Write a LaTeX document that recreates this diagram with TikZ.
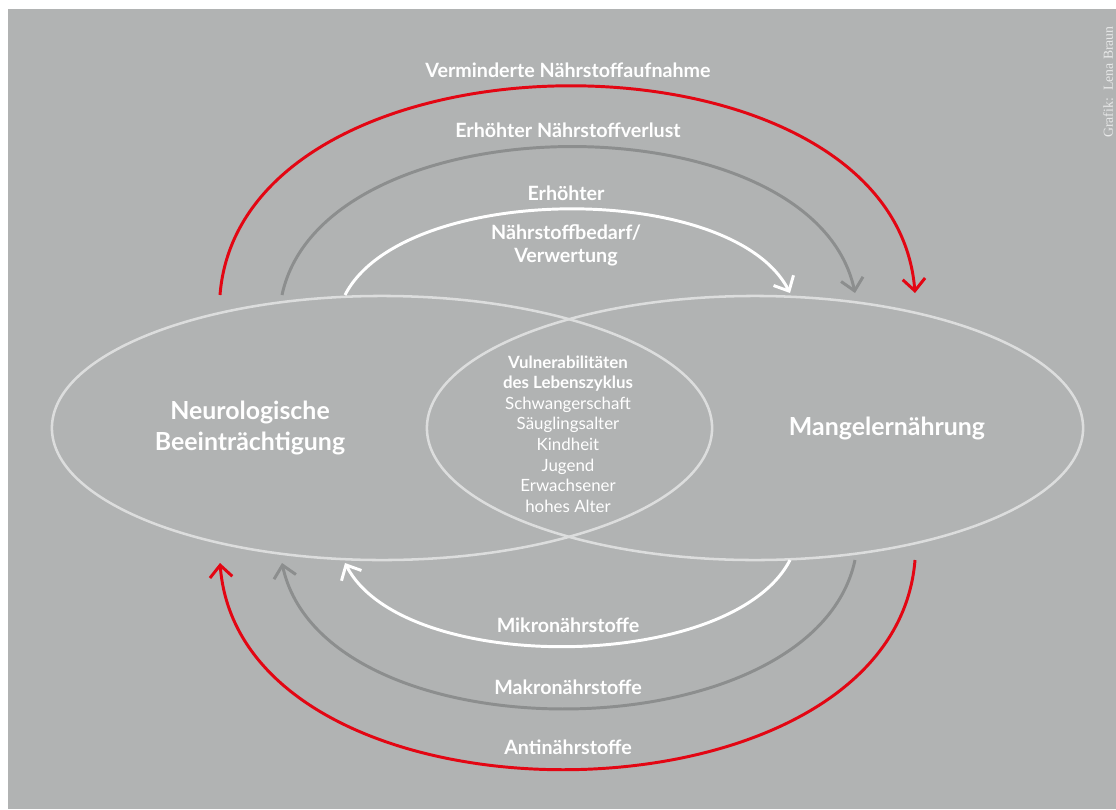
\documentclass[tikz,border=0pt]{standalone}
\usepackage{fontspec}
\setmainfont{Lato}
\newfontfamily\creditfont{Liberation Serif}
\usepackage{xcolor}
\usetikzlibrary{shapes.geometric, arrows.meta, positioning, calc}

\definecolor{bggray}{HTML}{B1B3B3}
\definecolor{arcred}{HTML}{E30613}
\definecolor{arcgray}{HTML}{8C8E8E}
\definecolor{ringgray}{HTML}{DCDDDD}
\definecolor{creditgray}{HTML}{E8E9E9}

\begin{document}
\begin{tikzpicture}[x=0.025cm, y=-0.025cm,
    ring/.style={ellipse, draw=ringgray, line width=1.8pt, inner sep=0pt, minimum height=6.6cm},
    flow/.style={line width=2.1pt, -{Straight Barb[length=3mm, width=5.6mm]}},
    maintitle/.style={text=white, font=\fontsize{17.7}{22.7}\selectfont\bfseries, align=center},
    arclabel/.style={text=white, font=\fontsize{14}{16.5}\selectfont\bfseries, align=center},
    phase/.style={text=white, font=\fontsize{12}{14.6}\selectfont, align=center},
    credit/.style={text=creditgray, font=\creditfont\fontsize{9.8}{11}\selectfont}
  ]

  % --- BACKGROUND ---
  \useasboundingbox (0,0) rectangle (1116,809);
  \fill[bggray] (8,9) rectangle (1116,809);
  \node[credit, rotate=90] (grafik) at (1108,82) {Grafik:\ \ Lena Braun};

  % --- THE TWO ELLIPSES ---
  \node[ring, minimum width=16.5cm] (neuro) at (382,428) {};
  \node[ring, minimum width=16.4cm] (mangel) at (755,428) {};

  \node[maintitle] (neurotext) at (250,428) {Neurologische\\Beeinträchtigung};
  \node[maintitle] (mangeltext) at (887,428) {Mangelernährung};
  \node[phase] (zyklus) at (568,434) {\textbf{Vulnerabilitäten}\\\textbf{des Lebenszyklus}\\Schwangerschaft\\Säuglingsalter\\Kindheit\\Jugend\\Erwachsener\\hohes Alter};

  % --- END POINTS OF THE ARCS ---
  \coordinate (redA) at (220,295);
  \coordinate (redB) at (915,293);
  \coordinate (grayA) at (282,295);
  \coordinate (grayB) at (855,293);
  \coordinate (whiteA) at (345,295);
  \coordinate (whiteB) at (790,293);
  \coordinate (redC) at (915,560);
  \coordinate (redD) at (220,563);
  \coordinate (grayC) at (855,560);
  \coordinate (grayD) at (282,563);
  \coordinate (whiteC) at (790,560);
  \coordinate (whiteD) at (345,563);

  % --- TOP ARCS: neuro -> mangel ---
  \draw[flow, arcred] (redA) .. controls +(22,-277) and +(-22,-277) .. (redB);
  \draw[flow, arcgray] (grayA) .. controls +(42,-196) and +(-42,-196) .. (grayB);
  \draw[flow, white] (whiteA) .. controls +(58,-113) and +(-58,-113) .. (whiteB);

  \node[arclabel] (aufnahme) at (568,70) {Verminderte Nährstoffaufnahme};
  \node[arclabel] (verlust) at (568,130) {Erhöhter Nährstoffverlust};
  \node[arclabel] (erhoeht) at (566,193) {Erhöhter};
  \node[arclabel] (bedarf) at (566,245) {Nährstoffbedarf/\\Verwertung};

  % --- BOTTOM ARCS: mangel -> neuro ---
  \draw[flow, arcred] (redC) .. controls +(-22,277) and +(22,277) .. (redD);
  \draw[flow, arcgray] (grayC) .. controls +(-42,196) and +(42,196) .. (grayD);
  \draw[flow, white] (whiteC) .. controls +(-58,113) and +(58,113) .. (whiteD);

  \node[arclabel] (mikro) at (568,625) {Mikronährstoffe};
  \node[arclabel] (makro) at (568,687) {Makronährstoffe};
  \node[arclabel] (anti) at (568,747) {Antinährstoffe};
\end{tikzpicture}
\end{document}
